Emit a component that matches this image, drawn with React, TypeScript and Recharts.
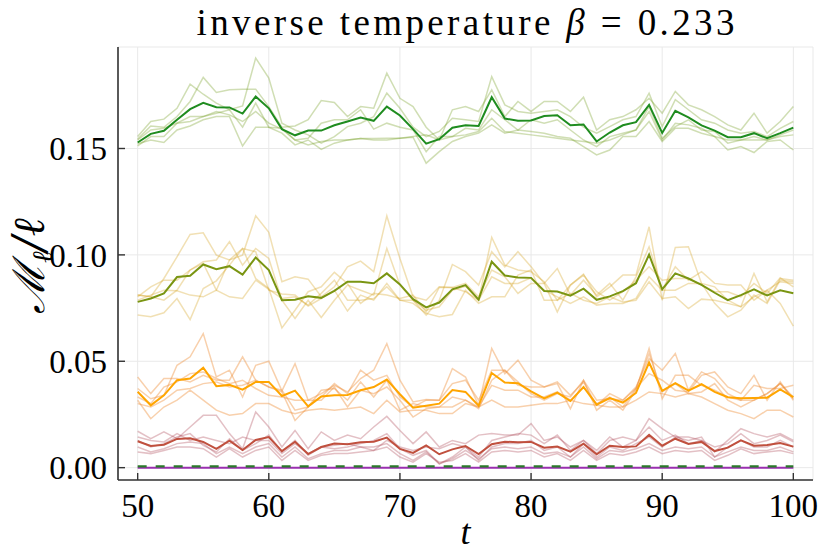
import { LineChart, Line, XAxis, YAxis, CartesianGrid } from "recharts";

const tValues = [
  50, 51, 52, 53, 54, 55, 56, 57, 58, 59, 60, 61, 62, 63, 64, 65, 66, 67, 68, 69,
  70, 71, 72, 73, 74, 75, 76, 77, 78, 79, 80, 81, 82, 83, 84, 85, 86, 87, 88, 89,
  90, 91, 92, 93, 94, 95, 96, 97, 98, 99, 100,
];

const xTicks = [50, 60, 70, 80, 90, 100];
const yTicks = [0, 0.05, 0.1, 0.15];

// largest ℓ: mean + single runs
const greenMean = [
  0.1528, 0.1569, 0.1583, 0.1635, 0.1685, 0.1715, 0.1694, 0.1693, 0.1664, 0.1744,
  0.1689, 0.1591, 0.1562, 0.1584, 0.1584, 0.1609, 0.1627, 0.1646, 0.163, 0.1697,
  0.1655, 0.1591, 0.1523, 0.1544, 0.1598, 0.1609, 0.1606, 0.1741, 0.1641, 0.163,
  0.1632, 0.1653, 0.1656, 0.1609, 0.1613, 0.1533, 0.1575, 0.1609, 0.1624, 0.1705,
  0.1573, 0.1677, 0.1646, 0.1609, 0.1584, 0.1553, 0.1553, 0.1572, 0.1548, 0.1572, 0.1598,
];
const greenRun1 = [
  0.1556, 0.1627, 0.1638, 0.1689, 0.1802, 0.1755, 0.1713, 0.1682, 0.17, 0.1925,
  0.1831, 0.1619, 0.1587, 0.1564, 0.1525, 0.1556, 0.1603, 0.1619, 0.165, 0.176,
  0.1689, 0.16, 0.1556, 0.158, 0.1642, 0.1635, 0.1627, 0.1838, 0.1705, 0.1674,
  0.1666, 0.1674, 0.1682, 0.165, 0.16, 0.1572, 0.1603, 0.1635, 0.165, 0.176,
  0.1603, 0.1729, 0.1682, 0.1635, 0.1619, 0.1587, 0.1572, 0.158, 0.1556, 0.1595, 0.1627,
];
const greenRun2 = [
  0.1544, 0.1606, 0.16, 0.165, 0.1721, 0.1834, 0.1763, 0.1776, 0.1779, 0.1779,
  0.1697, 0.16, 0.1606, 0.1635, 0.1725, 0.1716, 0.165, 0.1697, 0.1689, 0.1854,
  0.1736, 0.1697, 0.16, 0.154, 0.1682, 0.1697, 0.1674, 0.1776, 0.165, 0.1721,
  0.1674, 0.1721, 0.1721, 0.1674, 0.1741, 0.1587, 0.1635, 0.165, 0.1682, 0.1736,
  0.1666, 0.1768, 0.1705, 0.1682, 0.165, 0.1611, 0.1587, 0.1666, 0.1572, 0.1627, 0.1697,
];
const greenRun3 = [
  0.1522, 0.154, 0.1528, 0.1587, 0.1606, 0.1635, 0.165, 0.165, 0.1512, 0.16,
  0.16, 0.1572, 0.1517, 0.154, 0.1496, 0.1525, 0.154, 0.1547, 0.154, 0.154,
  0.1548, 0.1553, 0.1431, 0.1485, 0.1533, 0.1556, 0.1572, 0.1611, 0.1572, 0.1587,
  0.158, 0.1572, 0.1556, 0.1548, 0.1509, 0.147, 0.1493, 0.1556, 0.1556, 0.1627,
  0.1533, 0.1595, 0.1595, 0.1572, 0.1556, 0.1493, 0.1509, 0.1481, 0.1533, 0.154, 0.1493,
];
const greenRun4 = [
  0.1512, 0.1556, 0.1556, 0.1619, 0.165, 0.165, 0.1674, 0.1658, 0.1627, 0.1674,
  0.1619, 0.1591, 0.154, 0.1548, 0.1619, 0.1635, 0.1635, 0.1682, 0.1591, 0.1619,
  0.16, 0.1587, 0.1485, 0.1556, 0.1556, 0.1595, 0.1587, 0.1682, 0.1635, 0.1587,
  0.1635, 0.1619, 0.1635, 0.1587, 0.154, 0.1509, 0.1556, 0.1572, 0.1587, 0.1697,
  0.1548, 0.1603, 0.1635, 0.1587, 0.158, 0.1525, 0.154, 0.154, 0.154, 0.1564, 0.1587,
];
const greenRun5 = [
  0.154, 0.1587, 0.1595, 0.1619, 0.1627, 0.165, 0.1666, 0.1682, 0.16, 0.1713,
  0.16, 0.1595, 0.154, 0.1517, 0.1533, 0.154, 0.154, 0.1547, 0.1547, 0.1548,
  0.1548, 0.1556, 0.1564, 0.154, 0.1556, 0.1564, 0.158, 0.1642, 0.158, 0.1572,
  0.1564, 0.1556, 0.1548, 0.154, 0.1533, 0.1525, 0.154, 0.1564, 0.1587, 0.1674,
  0.154, 0.1619, 0.1611, 0.1595, 0.1556, 0.154, 0.154, 0.1556, 0.154, 0.1556, 0.1564,
];

const oliveMean = [
  0.0779, 0.0795, 0.0819, 0.0896, 0.0902, 0.0955, 0.0933, 0.0947, 0.0907, 0.0988,
  0.0929, 0.0787, 0.0789, 0.0805, 0.0798, 0.0831, 0.0874, 0.0874, 0.0867, 0.0913,
  0.0861, 0.0792, 0.0753, 0.0776, 0.0838, 0.0858, 0.079, 0.0968, 0.0903, 0.0894,
  0.0892, 0.083, 0.0828, 0.0808, 0.0841, 0.0789, 0.0805, 0.083, 0.0867, 0.1001,
  0.0838, 0.0913, 0.0889, 0.0859, 0.0822, 0.0787, 0.0811, 0.0838, 0.0809, 0.0834, 0.082,
];
const oliveRun1 = [
  0.0811, 0.0803, 0.0889, 0.0991, 0.1096, 0.1104, 0.0999, 0.0976, 0.0999, 0.1184,
  0.1106, 0.0874, 0.0897, 0.0886, 0.0803, 0.085, 0.0944, 0.0971, 0.0921, 0.1183,
  0.0983, 0.0803, 0.0787, 0.085, 0.0847, 0.0827, 0.0787, 0.1082, 0.0952, 0.0929,
  0.0921, 0.0874, 0.0787, 0.0858, 0.091, 0.0803, 0.085, 0.0905, 0.0905, 0.1132,
  0.0787, 0.1035, 0.1038, 0.0866, 0.085, 0.0787, 0.0756, 0.0913, 0.0779, 0.0889, 0.0881,
];
const oliveRun2 = [
  0.0803, 0.085, 0.0881, 0.0881, 0.0929, 0.0968, 0.0976, 0.1062, 0.0952, 0.103,
  0.0983, 0.0787, 0.0701, 0.0787, 0.0706, 0.0787, 0.0858, 0.0834, 0.0811, 0.103,
  0.0858, 0.0787, 0.0717, 0.0787, 0.0955, 0.0921, 0.0858, 0.1015, 0.0944, 0.1015,
  0.0944, 0.0866, 0.0936, 0.0811, 0.0881, 0.0811, 0.0866, 0.0787, 0.0897, 0.1038,
  0.0838, 0.0944, 0.0881, 0.0921, 0.0866, 0.0858, 0.0858, 0.0787, 0.0834, 0.0874, 0.0866,
];
const oliveRun3 = [
  0.0787, 0.0811, 0.0834, 0.0831, 0.0811, 0.0803, 0.0834, 0.0976, 0.103, 0.0889,
  0.0842, 0.0657, 0.074, 0.0827, 0.085, 0.0918, 0.0866, 0.0772, 0.0819, 0.0811,
  0.0795, 0.0811, 0.0732, 0.0847, 0.0847, 0.0866, 0.0803, 0.0929, 0.0897, 0.0819,
  0.0866, 0.0866, 0.0732, 0.0858, 0.0905, 0.0827, 0.0787, 0.0827, 0.0881, 0.0944,
  0.0881, 0.0889, 0.0889, 0.0858, 0.0827, 0.0827, 0.0803, 0.0866, 0.0819, 0.0892, 0.085,
];
const oliveRun4 = [
  0.0717, 0.0709, 0.0728, 0.0795, 0.0696, 0.0842, 0.0878, 0.0952, 0.103, 0.1015,
  0.0834, 0.0816, 0.0811, 0.0759, 0.0795, 0.0834, 0.0736, 0.0811, 0.0787, 0.0866,
  0.0787, 0.0772, 0.0725, 0.0709, 0.072, 0.0834, 0.0772, 0.0803, 0.0803, 0.0905,
  0.0929, 0.0787, 0.0787, 0.0819, 0.0787, 0.0772, 0.0803, 0.0779, 0.0787, 0.0874,
  0.0795, 0.0803, 0.0748, 0.0792, 0.0787, 0.0772, 0.0756, 0.0803, 0.0834, 0.0772, 0.0665,
];
const oliveRun5 = [
  0.0811, 0.0803, 0.0787, 0.0834, 0.0929, 0.096, 0.0834, 0.0803, 0.0795, 0.0881,
  0.0838, 0.0795, 0.0803, 0.0764, 0.0819, 0.0881, 0.0787, 0.0787, 0.0795, 0.085,
  0.0787, 0.0787, 0.074, 0.0756, 0.0834, 0.0853, 0.0787, 0.0897, 0.0866, 0.0866,
  0.0892, 0.0834, 0.0803, 0.0772, 0.0803, 0.0764, 0.0772, 0.0772, 0.0795, 0.0897,
  0.0834, 0.0834, 0.0866, 0.0866, 0.0772, 0.0709, 0.074, 0.0811, 0.0772, 0.0881, 0.0874,
];

const orangeMean = [
  0.0357, 0.0293, 0.034, 0.0411, 0.0419, 0.047, 0.0383, 0.0389, 0.0367, 0.0403,
  0.0403, 0.0337, 0.0362, 0.0288, 0.0335, 0.034, 0.0342, 0.0364, 0.0379, 0.0414,
  0.0345, 0.0282, 0.0291, 0.0301, 0.0365, 0.0356, 0.0291, 0.0445, 0.04, 0.0397,
  0.0359, 0.0326, 0.0353, 0.0313, 0.0379, 0.0296, 0.0327, 0.0306, 0.0351, 0.0494,
  0.0361, 0.0397, 0.0362, 0.0392, 0.0356, 0.0331, 0.0326, 0.0327, 0.0329, 0.0368, 0.0331,
];
const orangeRun1 = [
  0.0372, 0.0324, 0.034, 0.0481, 0.0521, 0.063, 0.0426, 0.0458, 0.0332, 0.0481,
  0.05, 0.0361, 0.0489, 0.0317, 0.0348, 0.0387, 0.0356, 0.0419, 0.0458, 0.0583,
  0.0411, 0.0309, 0.032, 0.0317, 0.0466, 0.0426, 0.0293, 0.056, 0.0442, 0.0505,
  0.0411, 0.0379, 0.0395, 0.0277, 0.0411, 0.027, 0.0317, 0.027, 0.0364, 0.056,
  0.0324, 0.0434, 0.0434, 0.0387, 0.0364, 0.0332, 0.0317, 0.0317, 0.0348, 0.0395, 0.0324,
];
const orangeRun2 = [
  0.0426, 0.0348, 0.0419, 0.0419, 0.0403, 0.0434, 0.0411, 0.0411, 0.0521, 0.0411,
  0.0379, 0.0356, 0.0222, 0.0285, 0.0332, 0.0395, 0.0348, 0.0458, 0.0411, 0.0434,
  0.0332, 0.0285, 0.0317, 0.0317, 0.0395, 0.0411, 0.0317, 0.0458, 0.0458, 0.0387,
  0.0379, 0.0379, 0.0403, 0.034, 0.0403, 0.0293, 0.0348, 0.0317, 0.0379, 0.0513,
  0.0458, 0.0536, 0.0364, 0.045, 0.0419, 0.0348, 0.0317, 0.0387, 0.0372, 0.0372, 0.0387,
];
const orangeRun3 = [
  0.0332, 0.0301, 0.0379, 0.0403, 0.0442, 0.045, 0.0419, 0.0395, 0.0411, 0.0372,
  0.034, 0.0332, 0.0317, 0.0317, 0.0317, 0.0379, 0.0285, 0.0364, 0.0348, 0.0379,
  0.0317, 0.0238, 0.0277, 0.0285, 0.0332, 0.0317, 0.0285, 0.0387, 0.0364, 0.0364,
  0.0332, 0.0332, 0.0356, 0.0317, 0.0379, 0.0301, 0.0332, 0.0285, 0.0372, 0.0442,
  0.0411, 0.0364, 0.0356, 0.0434, 0.045, 0.0379, 0.0348, 0.0434, 0.0317, 0.0403, 0.0317,
];
const orangeRun4 = [
  0.0317, 0.023, 0.0285, 0.0317, 0.0364, 0.0317, 0.027, 0.0246, 0.0254, 0.0301,
  0.0301, 0.027, 0.0254, 0.027, 0.0277, 0.027, 0.0277, 0.0285, 0.0254, 0.0317,
  0.0262, 0.027, 0.027, 0.0254, 0.0254, 0.0301, 0.0285, 0.0317, 0.0285, 0.0285,
  0.0293, 0.0301, 0.0301, 0.0317, 0.0301, 0.0293, 0.0285, 0.0285, 0.0317, 0.0356,
  0.0348, 0.0332, 0.0348, 0.0332, 0.0301, 0.027, 0.0254, 0.023, 0.027, 0.027, 0.0238,
];
const orangeRun5 = [
  0.0301, 0.0285, 0.0317, 0.0364, 0.0372, 0.0395, 0.0403, 0.0379, 0.0387, 0.0411,
  0.0379, 0.0364, 0.027, 0.0285, 0.0364, 0.0372, 0.0317, 0.0403, 0.0332, 0.0411,
  0.027, 0.0301, 0.0285, 0.0285, 0.0285, 0.0317, 0.0277, 0.0411, 0.0458, 0.0403,
  0.0348, 0.0317, 0.0348, 0.0332, 0.0411, 0.0317, 0.0324, 0.0317, 0.0372, 0.0536,
  0.0356, 0.0395, 0.0348, 0.0356, 0.0395, 0.0317, 0.0285, 0.0317, 0.0348, 0.0395, 0.0332,
];

const redMean = [
  0.0124, 0.0102, 0.0108, 0.0135, 0.0138, 0.0121, 0.0088, 0.0127, 0.0083, 0.013,
  0.0144, 0.0078, 0.0122, 0.0064, 0.0097, 0.0113, 0.011, 0.0119, 0.0122, 0.0141,
  0.0088, 0.0069, 0.0105, 0.0063, 0.0086, 0.0102, 0.0064, 0.011, 0.0122, 0.0119,
  0.0121, 0.0094, 0.0099, 0.0075, 0.0113, 0.0063, 0.0103, 0.0097, 0.01, 0.0154,
  0.0103, 0.0136, 0.0111, 0.0121, 0.0078, 0.0094, 0.0128, 0.0103, 0.0106, 0.0116, 0.0099,
];
const redRun1 = [
  0.0171, 0.0136, 0.0168, 0.0136, 0.0191, 0.0246, 0.0246, 0.016, 0.0089, 0.0262,
  0.0191, 0.0097, 0.0175, 0.0089, 0.0168, 0.0128, 0.0153, 0.0136, 0.0191, 0.0241,
  0.0175, 0.0113, 0.0168, 0.0097, 0.0128, 0.0113, 0.0153, 0.016, 0.0153, 0.0153,
  0.0207, 0.0128, 0.0144, 0.0097, 0.0128, 0.0081, 0.0144, 0.0097, 0.0128, 0.023,
  0.0183, 0.0144, 0.0144, 0.0128, 0.0074, 0.0128, 0.0183, 0.016, 0.0144, 0.016, 0.0128,
];
const redRun2 = [
  0.0144, 0.0128, 0.0121, 0.016, 0.0128, 0.0144, 0.0128, 0.0113, 0.0144, 0.0128,
  0.0128, 0.0066, 0.0113, 0.0066, 0.0097, 0.0105, 0.0113, 0.0097, 0.0081, 0.0128,
  0.0097, 0.0081, 0.0097, 0.0089, 0.0113, 0.0097, 0.005, 0.0128, 0.0144, 0.016,
  0.0153, 0.0113, 0.0153, 0.0081, 0.0128, 0.0066, 0.0128, 0.0144, 0.0128, 0.0191,
  0.0128, 0.0153, 0.0113, 0.0128, 0.0097, 0.0113, 0.016, 0.0113, 0.0128, 0.0153, 0.0121,
];
const redRun3 = [
  0.0128, 0.0097, 0.0113, 0.0144, 0.016, 0.0105, 0.0074, 0.0136, 0.0081, 0.0113,
  0.0153, 0.0074, 0.0128, 0.0058, 0.0097, 0.0089, 0.0097, 0.0113, 0.0128, 0.016,
  0.0089, 0.0058, 0.0081, 0.0018, 0.005, 0.0097, 0.0034, 0.0097, 0.0113, 0.0113,
  0.0128, 0.0081, 0.0097, 0.005, 0.0113, 0.005, 0.0097, 0.0081, 0.0113, 0.0144,
  0.0097, 0.0144, 0.0128, 0.0144, 0.005, 0.0097, 0.0128, 0.0097, 0.0097, 0.0128, 0.0097,
];
const redRun4 = [
  0.0097, 0.0074, 0.0089, 0.0113, 0.0121, 0.0113, 0.0066, 0.0097, 0.0066, 0.0097,
  0.0113, 0.005, 0.0097, 0.0042, 0.0066, 0.0081, 0.0081, 0.0097, 0.0097, 0.0113,
  0.0066, 0.0034, 0.0074, 0.0018, 0.0042, 0.0081, 0.0042, 0.0089, 0.0097, 0.0089,
  0.0097, 0.0066, 0.0074, 0.005, 0.0097, 0.0042, 0.0081, 0.0074, 0.0089, 0.0113,
  0.0081, 0.0097, 0.0089, 0.0097, 0.005, 0.0074, 0.0097, 0.0081, 0.0081, 0.0097, 0.0074,
];
const redRun5 = [
  0.0074, 0.0066, 0.0081, 0.0097, 0.0097, 0.0089, 0.005, 0.0089, 0.005, 0.0081,
  0.0097, 0.0034, 0.0081, 0.0034, 0.0058, 0.0066, 0.0066, 0.0074, 0.0081, 0.0097,
  0.005, 0.0026, 0.0066, 0.0026, 0.0034, 0.0066, 0.0026, 0.0074, 0.0081, 0.0074,
  0.0081, 0.005, 0.0066, 0.0034, 0.0081, 0.0034, 0.0066, 0.0058, 0.0074, 0.0097,
  0.0066, 0.0081, 0.0074, 0.0081, 0.0034, 0.0058, 0.0089, 0.0066, 0.0074, 0.0081, 0.0066,
];

// the two flat curves sitting on zero
const dashedLevel = 0.0006;
const solidLevel = 0;

const faintGroups = [
  { name: "green", runs: [greenRun1, greenRun2, greenRun3, greenRun4, greenRun5], color: "#6f9a1c", opacity: 0.33 },
  { name: "olive", runs: [oliveRun1, oliveRun2, oliveRun3, oliveRun4, oliveRun5], color: "#d4a21a", opacity: 0.33 },
  { name: "orange", runs: [orangeRun1, orangeRun2, orangeRun3, orangeRun4, orangeRun5], color: "#ee8a30", opacity: 0.4 },
  { name: "red", runs: [redRun1, redRun2, redRun3, redRun4, redRun5], color: "#b04a5a", opacity: 0.35 },
];

const meanSeries = [
  { key: "greenMean", values: greenMean, color: "#1f8c1f" },
  { key: "oliveMean", values: oliveMean, color: "#7a9512" },
  { key: "orangeMean", values: orangeMean, color: "#ffa500" },
  { key: "redMean", values: redMean, color: "#c0503e" },
];

const rows = tValues.map((t, i) => {
  const row: Record<string, number> = { t, dashed: dashedLevel, solid: solidLevel };
  faintGroups.forEach((g) => {
    g.runs.forEach((r, j) => {
      row[`${g.name}${j}`] = r[i];
    });
  });
  meanSeries.forEach((s) => {
    row[s.key] = s.values[i];
  });
  return row;
});

const serif = "'Liberation Serif', 'DejaVu Serif', serif";

export default function App() {
  return (
    <div style={{ position: "absolute", left: 0, top: 0, width: 830, height: 554, background: "#fff" }}>
      <LineChart
        width={830}
        height={554}
        data={rows}
        margin={{ top: 47, right: 17, bottom: 24, left: 58 }}
      >
        <CartesianGrid stroke="#e9e9e9" strokeWidth={1} />
        <XAxis
          dataKey="t"
          type="number"
          domain={[48.5, 101.5]}
          ticks={xTicks}
          interval={0}
          height={50}
          axisLine={{ stroke: "#333", strokeWidth: 1.6 }}
          tickLine={{ stroke: "#333", strokeWidth: 1.4 }}
          tickSize={-7}
          tickMargin={21}
          tick={{ fill: "#000", fontSize: 33, fontFamily: serif }}
        />
        <YAxis
          type="number"
          domain={[-0.0058, 0.1977]}
          ticks={yTicks}
          interval={0}
          width={60}
          axisLine={{ stroke: "#333", strokeWidth: 1.6 }}
          tickLine={{ stroke: "#333", strokeWidth: 1.4 }}
          tickSize={-7}
          tickMargin={18}
          tickFormatter={(v: number) => v.toFixed(2)}
          tick={{ fill: "#000", fontSize: 33, fontFamily: serif }}
        />
        {faintGroups.map((g) =>
          g.runs.map((_, j) => (
            <Line
              key={`${g.name}${j}`}
              dataKey={`${g.name}${j}`}
              stroke={g.color}
              strokeOpacity={g.opacity}
              strokeWidth={1.5}
              dot={false}
              activeDot={false}
              type="linear"
              isAnimationActive={false}
            />
          ))
        )}
        {meanSeries.map((s) => (
          <Line
            key={s.key}
            dataKey={s.key}
            stroke={s.color}
            strokeWidth={2}
            dot={false}
            activeDot={false}
            type="linear"
            isAnimationActive={false}
          />
        ))}
        <Line dataKey="solid" stroke="#9a2fb0" strokeWidth={2} dot={false} activeDot={false} isAnimationActive={false} />
        <Line
          dataKey="dashed"
          stroke="#2a7a2a"
          strokeWidth={2.2}
          strokeDasharray="9 9"
          dot={false}
          activeDot={false}
          isAnimationActive={false}
        />
      </LineChart>
      <svg
        width={830}
        height={554}
        style={{ position: "absolute", left: 0, top: 0, pointerEvents: "none" }}
      >
        <text x={465.5} y={35} textAnchor="middle" fontSize={37} fontFamily={serif} fill="#000" textLength={538} lengthAdjust="spacing">
          inverse temperature <tspan fontStyle="italic">β</tspan> = 0.233
        </text>
        <text x={465.5} y={544} textAnchor="middle" fontSize={36} fontFamily={serif} fontStyle="italic" fill="#000">
          t
        </text>
        <text
          transform="translate(44, 266) rotate(-90)"
          textAnchor="middle"
          fontSize={44}
          fontFamily="'DejaVu Serif', 'Liberation Serif', serif"
          fontStyle="italic"
          fill="#000"
        >
          ℳ<tspan fontSize={28} dy={8}>ℓ</tspan>
          <tspan dy={-8}>/ℓ</tspan>
        </text>
      </svg>
    </div>
  );
}
